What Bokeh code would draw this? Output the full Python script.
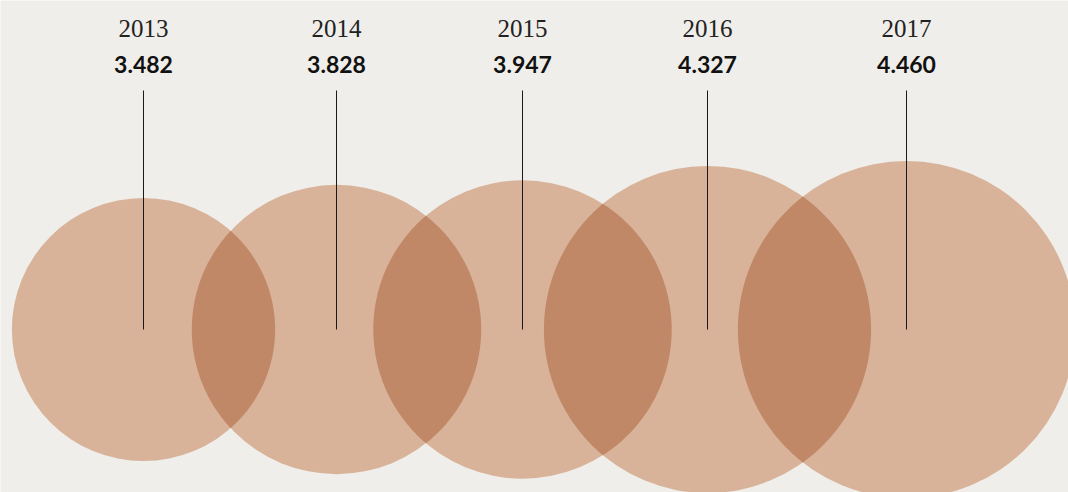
import numpy as np
from bokeh.plotting import figure
from bokeh.models import Range1d, ColumnDataSource
from bokeh.core.properties import value
from bokeh.embed import file_html
from bokeh.resources import INLINE

# ---- data ----
years = ["2013", "2014", "2015", "2016", "2017"]
values = [3.482, 3.828, 3.947, 4.327, 4.460]
value_labels = ["3.482", "3.828", "3.947", "4.327", "4.460"]

# ---- layout (pixel-like coordinates) ----
centers_x = [143, 336, 522, 707, 906]
center_y = 329
px_per_unit = 37.8          # radius proportional to value
line_top = 90
year_baseline = 28
value_baseline = 64

BG = "#efeeea"
SINGLE = "#d8b399"
DOUBLE = "#c08867"

W, H = 1068, 492
p = figure(width=W, height=H, output_backend="svg", toolbar_location=None,
           x_range=Range1d(0, W), y_range=Range1d(H, 0),
           min_border=0, background_fill_color=BG, border_fill_color=BG)
p.axis.visible = False
p.grid.visible = False
p.outline_line_color = None

radii = [v * px_per_unit for v in values]
src = ColumnDataSource(dict(x=centers_x, y=[center_y] * len(values), r=radii,
                            year=years, val=value_labels))

p.circle(x="x", y="y", radius="r", source=src, fill_color=SINGLE,
         line_color=None)

# lens-shaped overlaps between neighbouring circles
xs, ys = [], []
for i in range(len(values) - 1):
    xi, xj = centers_x[i], centers_x[i + 1]
    ri, rj = radii[i], radii[i + 1]
    d = xj - xi
    if d >= ri + rj:
        continue
    a = (d * d + ri * ri - rj * rj) / (2 * d)
    h = np.sqrt(ri * ri - a * a)
    ti = np.arctan2(h, a)
    tj = np.arctan2(h, d - a)
    ang_i = np.linspace(-ti, ti, 120)
    ang_j = np.linspace(np.pi - tj, np.pi + tj, 120)
    px = np.concatenate([xi + ri * np.cos(ang_i), xj + rj * np.cos(ang_j)])
    py = np.concatenate([center_y + ri * np.sin(ang_i), center_y + rj * np.sin(ang_j)])
    xs.append(px.tolist())
    ys.append(py.tolist())
p.patches(xs, ys, fill_color=DOUBLE, line_color=None)

# vertical lines
p.segment(x0="x", y0=line_top, x1="x", y1="y", source=src,
          line_color="#1a1a1a", line_width=1)

# labels
p.text(x="x", y=year_baseline, text="year", source=src,
       text_align="center", text_baseline="alphabetic",
       text_font=value("Liberation Serif"), text_font_size="25px",
       text_color="#222222")
p.text(x="x", y=value_baseline, text="val", source=src,
       text_align="center", text_baseline="alphabetic",
       text_font=value("Lato"), text_font_style="bold", text_font_size="23px",
       text_color="#111111")

html = file_html(p, INLINE)
html = html.replace("<body>", '<body style="background:%s;margin:0">' % BG, 1)
open("out.html", "w").write(html)
